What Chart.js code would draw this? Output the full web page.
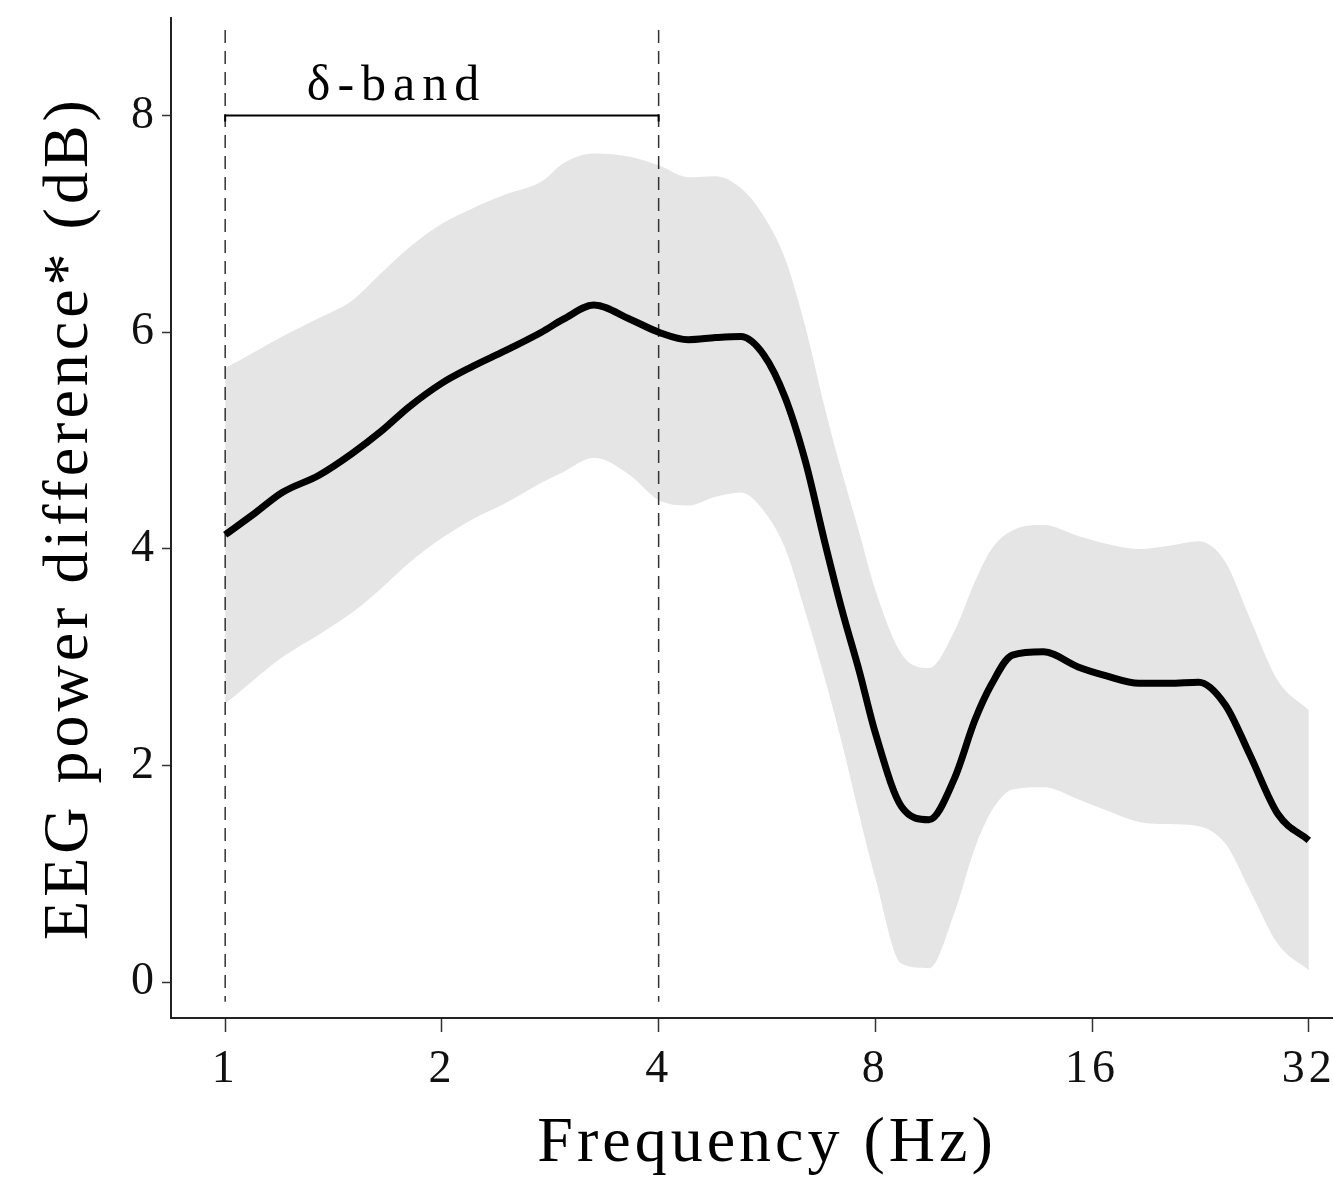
<!DOCTYPE html>
<html>
<head>
<meta charset="utf-8">
<title>EEG power difference</title>
<script src="https://cdn.jsdelivr.net/npm/chart.js@4.4.1/dist/chart.umd.min.js"></script>
<style>
  html, body { margin: 0; padding: 0; background: #fff; overflow: hidden; }
  #wrap { position: relative; width: 1363px; height: 1178px; }
</style>
</head>
<body>
<div id="wrap"><canvas id="eeg-chart"></canvas></div>
<script>
const freqHz = [1, 1.1, 1.2, 1.35, 1.5, 1.65, 1.8, 2, 2.2, 2.45, 2.75, 2.95, 3.25, 3.65, 4,
  4.4, 4.8, 5.2, 5.6, 6, 6.4, 6.8, 7.2, 7.6, 8, 8.7, 9.5, 10.3, 11, 11.6, 12.4, 13.7,
  15.3, 16.7, 18.6, 20.5, 22.5, 24.5, 26.5, 29, 32];

const meanDb = [4.13, 4.33, 4.52, 4.68, 4.88, 5.09, 5.31, 5.53, 5.68, 5.83, 6.00, 6.12, 6.25, 6.12, 6.00,
  5.93, 5.95, 5.96, 5.79, 5.39, 4.80, 4.07, 3.42, 2.87, 2.30, 1.62, 1.50, 1.88, 2.42, 2.75, 3.02, 3.05,
  2.91, 2.83, 2.76, 2.76, 2.77, 2.56, 2.10, 1.55, 1.31];

const upperDb = [5.67, 5.82, 5.96, 6.13, 6.29, 6.55, 6.78, 7.00, 7.14, 7.27, 7.39, 7.56, 7.65, 7.62, 7.54,
  7.43, 7.44, 7.33, 7.07, 6.67, 6.04, 5.31, 4.69, 4.15, 3.62, 3.03, 2.90, 3.24, 3.70, 4.00, 4.17, 4.22,
  4.12, 4.05, 4.00, 4.03, 4.07, 3.88, 3.36, 2.78, 2.51];

const lowerDb = [2.57, 2.80, 3.00, 3.21, 3.41, 3.64, 3.87, 4.10, 4.27, 4.42, 4.61, 4.71, 4.84, 4.68, 4.45,
  4.40, 4.48, 4.52, 4.35, 4.00, 3.41, 2.81, 2.19, 1.54, 0.96, 0.17, 0.13, 0.64, 1.24, 1.58, 1.78, 1.80,
  1.69, 1.59, 1.48, 1.46, 1.44, 1.28, 0.85, 0.35, 0.11];

const freqTicks = [1, 2, 4, 8, 16, 32];
const dbTicks = [0, 2, 4, 6, 8];

const deltaBand = [1, 4];      // Hz, dashed lines + bracket
const bracketDb = 8;
const dashTopDb = 8.79;
const dashBottomDb = -0.18;
const deltaLabel = "δ-band";
const deltaLabelAt = [1.73, 8.14];

const serif = "'Liberation Serif', 'Times New Roman', serif";

function points(values) {
  return freqHz.map((f, i) => ({ x: f, y: values[i] }));
}

const deltaBandPlugin = {
  id: "deltaBand",
  beforeDraw(chart) {
    chart.ctx.letterSpacing = "4px";
  },
  afterDatasetDraw(chart, args) {
    // dashed band limits go over the grey ribbon but under the mean line
    if (args.index !== 1) return;
    const { ctx, scales: { x, y } } = chart;
    ctx.save();
    ctx.strokeStyle = "#333";
    ctx.lineWidth = 1.5;
    ctx.setLineDash([13, 8]);
    for (const f of deltaBand) {
      const px = x.getPixelForValue(f);
      ctx.beginPath();
      ctx.moveTo(px, y.getPixelForValue(dashTopDb));
      ctx.lineTo(px, y.getPixelForValue(dashBottomDb));
      ctx.stroke();
    }
    ctx.restore();
  },
  afterDraw(chart) {
    const { ctx, scales: { x, y } } = chart;
    const x0 = x.getPixelForValue(deltaBand[0]);
    const x1 = x.getPixelForValue(deltaBand[1]);
    const yb = y.getPixelForValue(bracketDb);
    ctx.save();
    ctx.strokeStyle = "#000";
    ctx.lineWidth = 2;
    ctx.beginPath();
    ctx.moveTo(x0, yb + 6);
    ctx.lineTo(x0, yb);
    ctx.lineTo(x1, yb);
    ctx.lineTo(x1, yb + 6);
    ctx.stroke();
    ctx.letterSpacing = "7px";
    ctx.font = "50px " + serif;
    ctx.fillStyle = "#000";
    ctx.textAlign = "center";
    ctx.textBaseline = "alphabetic";
    ctx.fillText(deltaLabel, x.getPixelForValue(deltaLabelAt[0]), y.getPixelForValue(deltaLabelAt[1]));
    ctx.restore();
  },
};

const ctx = document.getElementById("eeg-chart");
new Chart(ctx, {
  type: "line",
  data: {
    datasets: [
      {
        label: "mean",
        data: points(meanDb),
        borderColor: "#000",
        borderWidth: 7,
        pointRadius: 0,
        fill: false,
        cubicInterpolationMode: "monotone",
      },
      {
        label: "upper",
        data: points(upperDb),
        borderWidth: 0,
        borderColor: "rgba(0,0,0,0)",
        backgroundColor: "#e5e5e5",
        pointRadius: 0,
        fill: "+1",
        cubicInterpolationMode: "monotone",
      },
      {
        label: "lower",
        data: points(lowerDb),
        borderWidth: 0,
        borderColor: "rgba(0,0,0,0)",
        pointRadius: 0,
        fill: false,
        cubicInterpolationMode: "monotone",
      },
    ],
  },
  options: {
    responsive: true,
    maintainAspectRatio: false,
    animation: false,
    layout: { padding: { top: 18, right: 0, bottom: 0, left: 0 } },
    plugins: {
      legend: { display: false },
      tooltip: { enabled: false },
    },
    scales: {
      x: {
        type: "logarithmic",
        min: Math.pow(2, -0.25),
        max: Math.pow(2, 5.25),
        afterBuildTicks: (s) => { s.ticks = freqTicks.map((v) => ({ value: v })); },
        afterFit: (s) => { s.height = 160; s.paddingLeft = 0; s.paddingRight = 0; },
        ticks: {
          callback: (v) => String(v),
          autoSkip: false,
          maxRotation: 0,
          padding: 10,
          color: "#111",
          font: { family: serif, size: 46 },
        },
        grid: { drawOnChartArea: false, tickLength: 14, tickWidth: 1.5, tickColor: "#333" },
        border: { color: "#222", width: 2 },
        title: {
          display: true,
          text: "Frequency (Hz)",
          color: "#000",
          font: { family: serif, size: 64, lineHeight: 1 },
          padding: { top: 0, bottom: 2 },
        },
      },
      y: {
        min: -0.33,
        max: 8.9,
        afterBuildTicks: (s) => { s.ticks = dbTicks.map((v) => ({ value: v })); },
        afterFit: (s) => { s.width = 171; s.paddingTop = 0; s.paddingBottom = 0; },
        ticks: {
          padding: 4,
          color: "#111",
          font: { family: serif, size: 46 },
        },
        grid: { drawOnChartArea: false, tickLength: 9, tickWidth: 1.5, tickColor: "#333" },
        border: { color: "#222", width: 2 },
        title: {
          display: true,
          text: "EEG power difference* (dB)",
          color: "#000",
          font: { family: serif, size: 64, lineHeight: 1 },
          padding: { top: 38, bottom: 0 },
        },
      },
    },
  },
  plugins: [deltaBandPlugin],
});
</script>
</body>
</html>
